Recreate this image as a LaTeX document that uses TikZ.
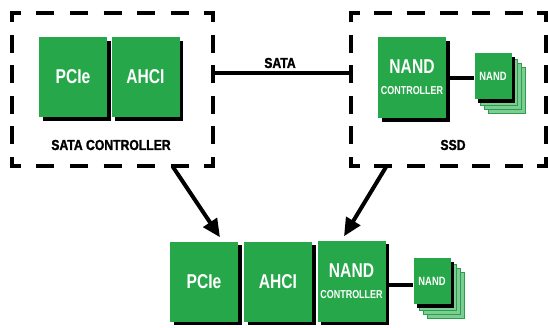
\documentclass[tikz,border=0pt]{standalone}
\usepackage{fontspec}
\usetikzlibrary{arrows.meta,shadows,calc}
\newfontfamily\labelfont[FakeStretch=0.78]{Liberation Sans}
\newfontfamily\captionfont[FakeStretch=0.84, FakeBold=1.6]{Liberation Sans}

\definecolor{chipgreen}{RGB}{38,168,74}
\definecolor{stackgreen}{RGB}{125,204,146}
\definecolor{stackedge}{RGB}{40,160,80}

% one side of a dashed frame, starting and ending on a dash
\newcommand\dashedside[5]{\draw[dashside, dash pattern=on #3pt off #4pt, dash phase=#5pt] #1 -- #2;}

\tikzset{
  chip/.style={fill=chipgreen, text=white, inner sep=0pt, align=center,
    minimum width=68pt, minimum height=80pt,
    font=\labelfont\bfseries\fontsize{20}{20}\selectfont,
    drop shadow={shadow xshift=3.5pt, shadow yshift=-3.5pt, opacity=1, fill=black}},
  smallchip/.style={chip, minimum width=37pt, minimum height=46pt,
    font=\labelfont\bfseries\fontsize{12}{12}\selectfont},
  stackcopy/.style={fill=stackgreen, draw=stackedge, line width=0.8pt,
    minimum width=37pt, minimum height=46pt, inner sep=0pt},
  dashside/.style={line width=4.5pt},
  link/.style={line width=4pt},
  bigarrow/.style={line width=4pt, -{Triangle[length=18pt,width=16pt]}},
  caption/.style={font=\captionfont\bfseries\fontsize{14.5}{14.5}\selectfont, inner sep=0pt}
}

\newcommand\ctrltext{NAND\\[1pt]{\fontsize{11.5}{11.5}\selectfont CONTROLLER}}

\begin{document}
\begin{tikzpicture}[x=1pt, y=-1pt]
\useasboundingbox (0,0) rectangle (548,327);

% ---- frame corners ----
\coordinate (lnw) at (12,13);  \coordinate (lne) at (213,13);
\coordinate (lse) at (213,166); \coordinate (lsw) at (12,166);
\coordinate (rnw) at (351,13);  \coordinate (rne) at (546,13);
\coordinate (rse) at (546,166); \coordinate (rsw) at (351,166);

% ---- SATA controller frame ----
\dashedside{($(lnw)+(-2.25,0)$)}{($(lne)+(2.25,0)$)}{18}{15.6}{7}
\dashedside{($(lsw)+(-2.25,0)$)}{($(lse)+(2.25,0)$)}{18}{15.6}{7}
\dashedside{(lnw)}{(lsw)}{18}{12.6}{9}
\dashedside{(lne)}{(lse)}{18}{12.6}{9}

% ---- SSD frame ----
\dashedside{($(rnw)+(-2.25,0)$)}{($(rne)+(2.25,0)$)}{18}{14.6}{7}
\dashedside{($(rsw)+(-2.25,0)$)}{($(rse)+(2.25,0)$)}{18}{14.6}{7}
\dashedside{(rnw)}{(rsw)}{18}{12.6}{9}
\dashedside{(rne)}{(rse)}{18}{12.6}{9}

% ---- SATA link between the frames ----
\coordinate (sataL) at (213,73);
\coordinate (sataR) at (351,73);
\draw[link] (sataL) -- (sataR);
\node[caption] (satalabel) at (280,63) {SATA};

% ---- SATA controller ----
\node[chip] (lpcie) at (73,77) {PCIe};
\node[chip] (lahci) at (145.5,77) {AHCI};
\node[caption] (ctrllabel) at (111,145) {SATA CONTROLLER};

% ---- SSD ----
\node[chip, minimum height=81pt] (rnc) at (412,77.5) {\ctrltext};
\coordinate (rnpos) at (493,76);
\foreach \k in {14,10,6}
  \node[stackcopy] (rnstack\k) at ($(rnpos)+(\k,\k)$) {};
\node[smallchip] (rn) at (rnpos) {NAND};
\draw[link] ($(rn.west)+(0,2)$) -- ($(rn.west -| rnc.east)+(0,2)$);
\node[caption] (ssdlabel) at (453,145) {SSD};

% ---- combined device ----
\node[chip] (bpcie) at (204,281.5) {PCIe};
\node[chip] (bahci) at (278,281.5) {AHCI};
\node[chip, minimum height=81pt] (bnc) at (351.5,281) {\ctrltext};
\coordinate (bnpos) at (432,281);
\foreach \k in {14,10,6}
  \node[stackcopy] (bnstack\k) at ($(bnpos)+(\k,\k)$) {};
\node[smallchip] (bn) at (bnpos) {NAND};
\draw[link] ($(bn.west)+(0,4)$) -- ($(bn.west -| bnc.east)+(0,4)$);

% ---- arrows ----
\coordinate (lfrom) at (173,167);
\coordinate (rfrom) at (386,167);
\draw[bigarrow] (lfrom) -- ($(bpcie.north)+(16,-4)$);
\draw[bigarrow] (rfrom) -- ($(bnc.north)+(-7.5,-4)$);
\end{tikzpicture}
\end{document}
